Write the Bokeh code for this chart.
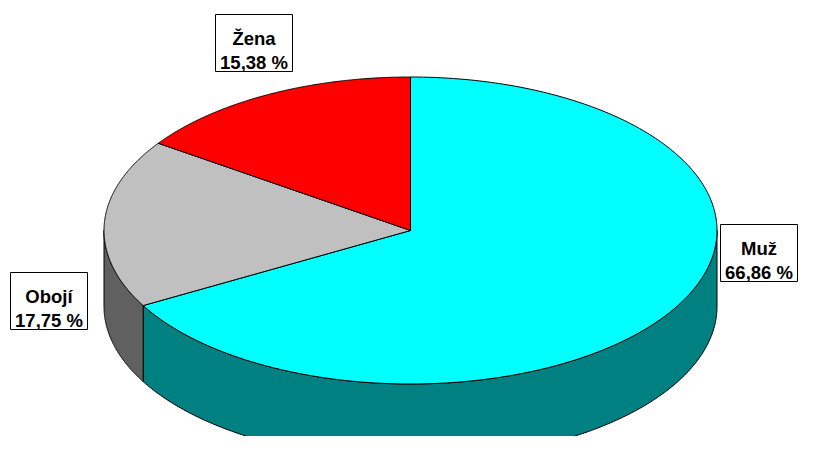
import numpy as np
from bokeh.plotting import figure
from bokeh.models import Range1d
from bokeh.core.properties import value
from bokeh.embed import file_html
from bokeh.resources import INLINE

# ---- data ----
categories = ["Muž", "Obojí", "Žena"]
shares = [66.86, 17.75, 15.38]
top_colors = ["#00FFFF", "#C0C0C0", "#FF0000"]
side_colors = ["#008080", "#606060", "#800000"]

# ---- geometry (screen pixels) ----
W, H = 799, 436
cx, cy, rx, ry, depth = 410.0, 230.0, 306.5, 153.5, 76.0

p = figure(width=W, height=H, output_backend="svg", toolbar_location=None,
           x_range=Range1d(0, W), y_range=Range1d(H, 0),
           min_border=0, outline_line_color=None)
p.axis.visible = False
p.grid.visible = False
p.background_fill_color = "white"


def pt(theta_deg):
    t = np.radians(theta_deg)
    return cx + rx * np.sin(t), cy - ry * np.cos(t)


total = sum(shares)
starts, ends = [], []
acc = 0.0
for s in shares:
    starts.append(acc / total * 360.0)
    acc += s
    ends.append(acc / total * 360.0)

# side walls (visible front half: 90..270 degrees clockwise from top)
for a0, a1, col in zip(starts, ends, side_colors):
    lo, hi = max(a0, 90.0), min(a1, 270.0)
    if hi <= lo:
        continue
    th = np.linspace(lo, hi, 200)
    xs, ys = pt(th)
    px = np.concatenate([xs, xs[::-1]])
    py = np.concatenate([ys, (ys + depth)[::-1]])
    p.patch(px, py, fill_color=col, line_color="black", line_width=1)

# top faces
for a0, a1, col in zip(starts, ends, top_colors):
    th = np.linspace(a0, a1, 300)
    xs, ys = pt(th)
    px = np.concatenate([[cx], xs])
    py = np.concatenate([[cy], ys])
    p.patch(px, py, fill_color=col, line_color="black", line_width=1)

# labels
label_boxes = {"Muž": (720, 224), "Obojí": (10, 272), "Žena": (215, 14)}
bw, bh = 77, 57
for cat, s in zip(categories, shares):
    lx, ly = label_boxes[cat]
    p.quad(left=[lx], right=[lx + bw], top=[ly], bottom=[ly + bh],
           fill_color="white", line_color="black", line_width=1)
    pct = f"{s:.2f}".replace(".", ",") + " %"
    p.text(x=[lx + bw / 2, lx + bw / 2], y=[ly + 24, ly + 48], text=[cat, pct],
           text_font=value("Liberation Sans"), text_font_style="bold",
           text_font_size="18.5px", text_align="center",
           text_baseline="alphabetic", text_color="black")

open("out.html", "w").write(file_html(p, INLINE))
